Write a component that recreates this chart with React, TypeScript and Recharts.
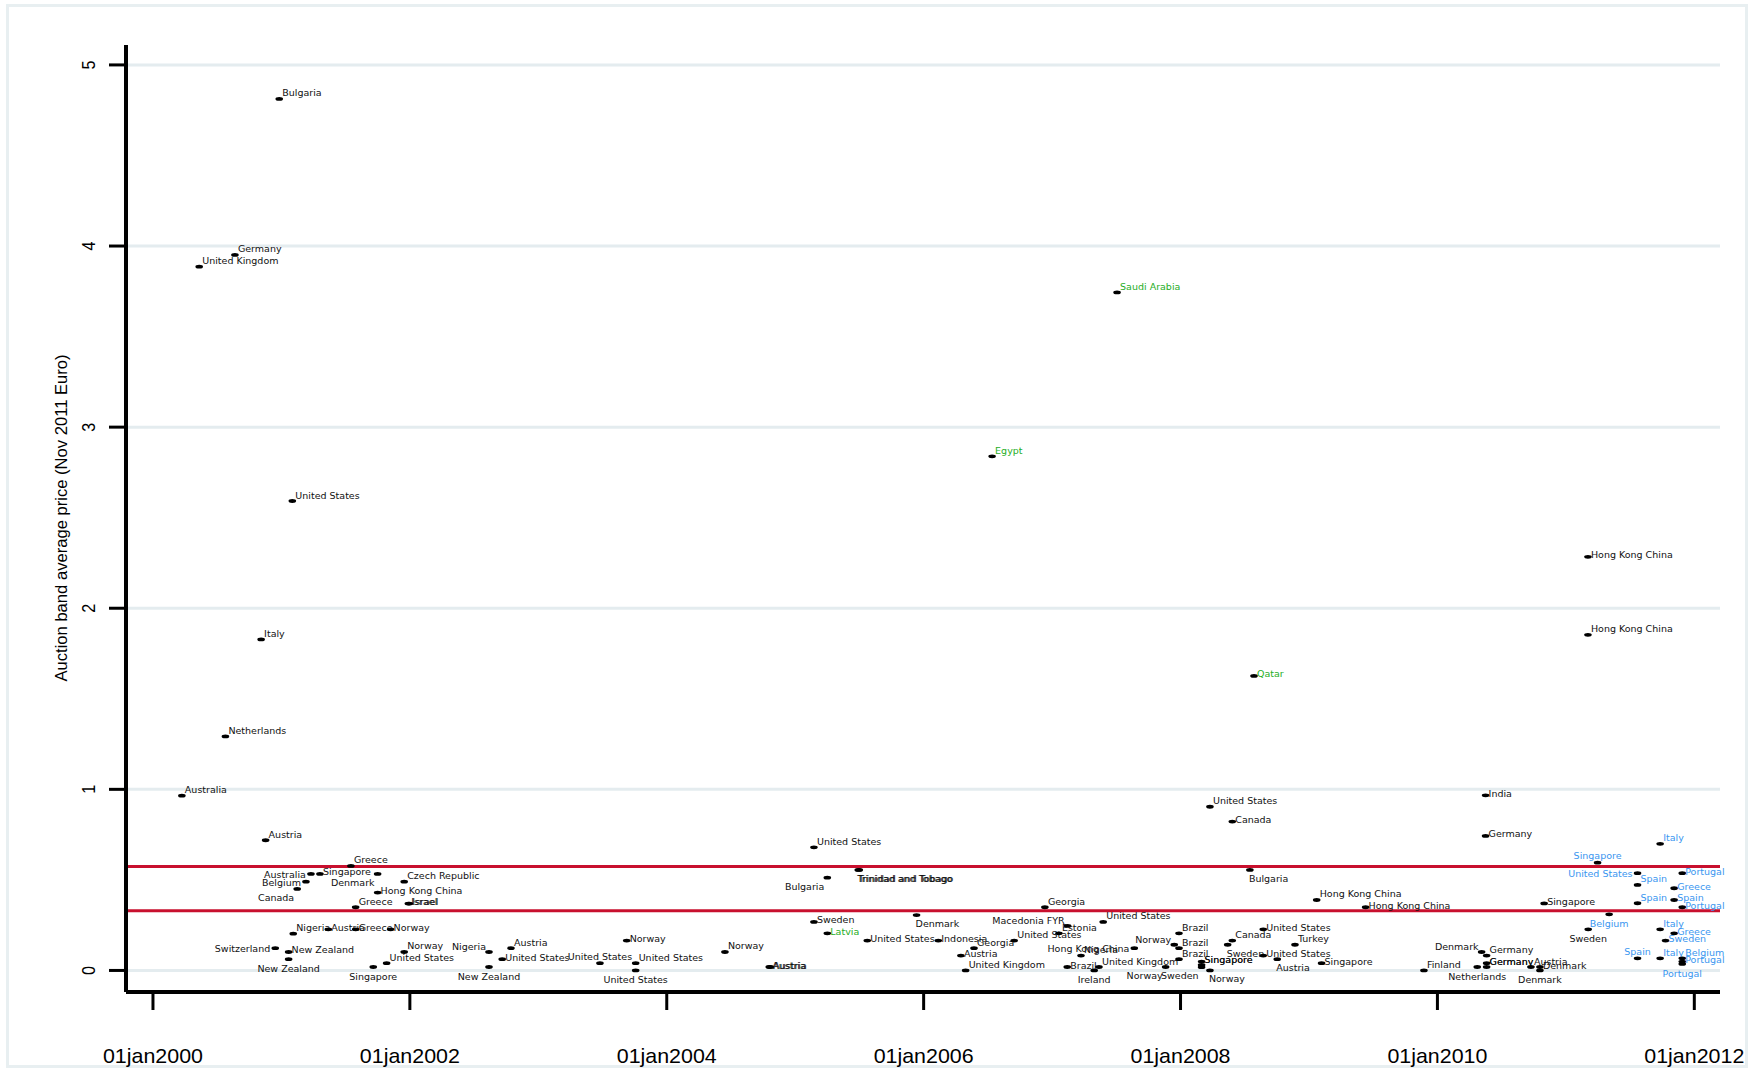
import React from 'react'
import { ScatterChart, Scatter, XAxis, YAxis, CartesianGrid, ReferenceLine } from 'recharts'

// auction dates as decimal years, prices in Nov 2011 Euro
// mlabel clock positions as in Stata (2,3,5,6,7,9,10,12)
const blackNames = [
  'Bulgaria', 'Germany', 'United Kingdom', 'United States', 'Italy', 'Netherlands', 'Australia', 'Austria',
  'Greece', 'Australia', 'Singapore', 'Denmark', 'Belgium', 'Czech Republic', 'Canada', 'Hong Kong China',
  'Israel', 'Israel', 'Greece', 'Nigeria', 'Austria', 'Greece', 'Norway', 'Switzerland',
  'New Zealand', 'New Zealand', 'Singapore', 'United States', 'Norway', 'Nigeria', 'New Zealand', 'Austria',
  'United States', 'United States', 'Norway', 'United States', 'United States', 'Norway', 'Austria', 'Austria',
  'United States', 'Trinidad and Tobago', 'Trinidad and Tobago', 'Bulgaria', 'Denmark', 'Georgia', 'Sweden', 'United States',
  'Indonesia', 'Georgia', 'United States', 'Austria', 'United Kingdom', 'Macedonia FYR', 'Estonia', 'Hong Kong China',
  'Nigeria', 'Brazil', 'Ireland', 'United Kingdom', 'United States', 'Norway', 'Norway', 'Brazil',
  'Brazil', 'Brazil', 'Singapore', 'Singapore', 'Sweden', 'Norway', 'Canada', 'Sweden',
  'United States', 'United States', 'Turkey', 'Austria', 'Singapore', 'Bulgaria', 'Hong Kong China', 'Hong Kong China',
  'Singapore', 'Finland', 'Denmark', 'Germany', 'Germany', 'Germany', 'Netherlands', 'Austria',
  'Denmark', 'Denmark', 'Sweden', 'Hong Kong China', 'Hong Kong China', 'India', 'Germany', 'United States',
  'Canada',
]
const blackDates = [
  2000.983, 2000.638, 2000.36, 2001.085, 2000.842, 2000.564, 2000.225, 2000.877,
  2001.541, 2001.23, 2001.3, 2001.749, 2001.191, 2001.956, 2001.123, 2001.749,
  2001.988, 2001.996, 2001.578, 2001.092, 2001.365, 2001.578, 2001.85, 2000.952,
  2001.056, 2001.056, 2001.715, 2001.819, 2001.956, 2002.616, 2002.616, 2002.787,
  2002.719, 2003.48, 2003.688, 2003.758, 2003.758, 2004.453, 2004.798, 2004.806,
  2005.146, 2005.491, 2005.499, 2005.25, 2005.945, 2006.944, 2005.146, 2005.561,
  2006.114, 2006.392, 2006.705, 2006.29, 2006.327, 2007.121, 2007.053, 2007.64,
  2007.225, 2007.118, 2007.328, 2007.365, 2007.398, 2007.884, 2007.951, 2007.988,
  2007.988, 2007.988, 2008.164, 2008.164, 2008.164, 2008.229, 2008.403, 2008.367,
  2008.644, 2008.644, 2008.891, 2008.753, 2009.098, 2008.54, 2009.06, 2009.441,
  2010.831, 2009.895, 2010.344, 2010.383, 2010.383, 2010.383, 2010.31, 2010.728,
  2010.798, 2010.798, 2011.174, 2011.172, 2011.172, 2010.375, 2010.375, 2008.229,
  2008.403,
]
const blackPrices = [
  4.812, 3.951, 3.886, 2.592, 1.828, 1.292, 0.965, 0.719,
  0.577, 0.533, 0.533, 0.533, 0.49, 0.49, 0.45, 0.43,
  0.369, 0.369, 0.349, 0.203, 0.227, 0.227, 0.227, 0.123,
  0.102, 0.062, 0.019, 0.04, 0.102, 0.102, 0.019, 0.123,
  0.062, 0.04, 0.165, 0.04, 0.0, 0.102, 0.019, 0.019,
  0.68, 0.555, 0.555, 0.512, 0.306, 0.349, 0.268, 0.165,
  0.165, 0.123, 0.165, 0.082, 0.0, 0.246, 0.205, 0.123,
  0.082, 0.019, 0.0, 0.019, 0.268, 0.019, 0.142, 0.205,
  0.123, 0.062, 0.049, 0.03, 0.018, 0.0, 0.165, 0.142,
  0.082, 0.227, 0.142, 0.062, 0.04, 0.555, 0.389, 0.349,
  0.37, 0.0, 0.102, 0.082, 0.04, 0.019, 0.019, 0.019,
  0.019, 0.0, 0.227, 2.284, 1.853, 0.967, 0.743, 0.904,
  0.822,
]
const blackPos = [
  2, 2, 2, 2, 2, 2, 2, 2,
  2, 9, 3, 7, 9, 2, 7, 3,
  3, 3, 2, 2, 3, 3, 3, 9,
  3, 6, 6, 2, 2, 10, 6, 2,
  3, 12, 3, 2, 6, 2, 3, 3,
  2, 5, 5, 7, 5, 2, 3, 3,
  3, 2, 2, 3, 2, 10, 2, 9,
  2, 3, 6, 2, 2, 7, 10, 2,
  2, 2, 3, 2, 7, 5, 2, 5,
  3, 3, 2, 5, 3, 5, 2, 3,
  3, 2, 10, 2, 3, 2, 6, 2,
  3, 6, 6, 3, 2, 3, 3, 2,
  3,
]

const greenNames = ['Saudi Arabia', 'Egypt', 'Qatar', 'Latvia']
const greenDates = [2007.506, 2006.533, 2008.572, 2005.25]
const greenPrices = [3.744, 2.839, 1.626, 0.205]
const greenPos = [2, 2, 3, 3]

const blueNames = [
  'Italy', 'Singapore', 'United States', 'Portugal', 'Spain', 'Greece', 'Spain', 'Spain', 'Portugal',
  'Belgium', 'Italy', 'Greece', 'Sweden', 'Spain', 'Italy', 'Belgium', 'Portugal', 'Portugal',
]
const blueDates = [
  2011.734, 2011.247, 2011.558, 2011.906, 2011.558, 2011.843, 2011.558, 2011.843, 2011.906,
  2011.337, 2011.734, 2011.843, 2011.776, 2011.558, 2011.734, 2011.906, 2011.906, 2011.906,
]
const bluePrices = [
  0.699, 0.595, 0.537, 0.537, 0.472, 0.454, 0.371, 0.389, 0.349,
  0.31, 0.227, 0.205, 0.165, 0.067, 0.067, 0.067, 0.049, 0.036,
]
const bluePos = [2, 12, 9, 3, 2, 3, 2, 3, 3, 6, 2, 3, 3, 12, 2, 2, 3, 6]

const refPrices = [0.574, 0.33]
const xTicks = [2000, 2002, 2004, 2006, 2008, 2010, 2012]
const yTicks = [0, 1, 2, 3, 4, 5]

const rows = (names: string[], dates: number[], prices: number[], pos: number[]) =>
  names.map((name, i) => ({ name, date: dates[i], price: prices[i], pos: pos[i] }))

const blackData = rows(blackNames, blackDates, blackPrices, blackPos)
const greenData = rows(greenNames, greenDates, greenPrices, greenPos)
const blueData = rows(blueNames, blueDates, bluePrices, bluePos)

const LABEL_FONT = '"DejaVu Sans", sans-serif'

const placement: Record<number, { dx: number; dy: number; anchor: 'start' | 'middle' | 'end' }> = {
  2: { dx: 3, dy: -2.5, anchor: 'start' },
  3: { dx: 3, dy: 1.5, anchor: 'start' },
  5: { dx: -1, dy: 12, anchor: 'start' },
  6: { dx: 0, dy: 13, anchor: 'middle' },
  7: { dx: -3, dy: 12, anchor: 'end' },
  9: { dx: -5, dy: 4, anchor: 'end' },
  10: { dx: -3, dy: -2, anchor: 'end' },
  12: { dx: 0, dy: -3.5, anchor: 'middle' },
}

const labelled = (color: string) => (props: any) => {
  const { cx, cy, payload } = props
  const p = placement[payload.pos] || placement[3]
  return (
    <g>
      <ellipse cx={cx} cy={cy} rx={3.8} ry={1.9} fill="#000" />
      <text x={cx + p.dx} y={cy + p.dy} textAnchor={p.anchor} fontSize={9.5}
        fontFamily={LABEL_FONT} fill={color}>{payload.name}</text>
    </g>
  )
}

const XTick = ({ x, y, payload }: any) => (
  <text x={x} y={y + 51} textAnchor="middle" fontSize={21} textLength={100}
    lengthAdjust="spacingAndGlyphs" fontFamily='"Liberation Sans", sans-serif' fill="#000">
    {`01jan${payload.value}`}
  </text>
)

const YTick = ({ y, payload }: any) => (
  <text x={95} y={y} transform={`rotate(-90 95 ${y})`} textAnchor="middle" fontSize={19}
    textLength={9} lengthAdjust="spacingAndGlyphs" fontFamily='"Liberation Sans", sans-serif' fill="#000">
    {payload.value}
  </text>
)

const YTitle = () => (
  <text x={67} y={518} transform="rotate(-90 67 518)" textAnchor="middle" fontSize={16.6}
    fontFamily='"Liberation Sans", sans-serif' fill="#000">
    Auction band average price (Nov 2011 Euro)
  </text>
)

export default function App() {
  return (
    <div style={{ position: 'absolute', left: 0, top: 0, width: 1750, height: 1071, background: '#fff' }}>
      <div style={{ position: 'absolute', left: 6, top: 4, width: 1742, height: 1064,
        border: '3px solid #e8eff1', boxSizing: 'border-box' }} />
      <ScatterChart width={1750} height={1071} margin={{ top: 45, right: 30, bottom: 0, left: 0 }}>
        <CartesianGrid vertical={false} horizontalValues={yTicks} stroke="#e4ecef" strokeWidth={3} />
        <XAxis type="number" dataKey="date" domain={[1999.79, 2012.2]} ticks={xTicks} interval={0}
          height={79} tickSize={18} tickMargin={2}
          axisLine={{ stroke: '#000', strokeWidth: 4 }} tickLine={{ stroke: '#000', strokeWidth: 3 }}
          tick={<XTick />} />
        <YAxis type="number" dataKey="price" domain={[-0.119, 5.11]} ticks={yTicks} interval={0}
          width={126} tickSize={17} tickMargin={2}
          axisLine={{ stroke: '#000', strokeWidth: 4 }} tickLine={{ stroke: '#000', strokeWidth: 3 }}
          tick={<YTick />} label={<YTitle />} />
        {refPrices.map(v => (
          <ReferenceLine key={v} y={v} stroke="#c8102e" strokeWidth={3} />
        ))}
        <Scatter data={blackData} fill="#000" shape={labelled('#111')} isAnimationActive={false} />
        <Scatter data={greenData} fill="#000" shape={labelled('#1fae1f')} isAnimationActive={false} />
        <Scatter data={blueData} fill="#000" shape={labelled('#3a96f0')} isAnimationActive={false} />
      </ScatterChart>
    </div>
  )
}
